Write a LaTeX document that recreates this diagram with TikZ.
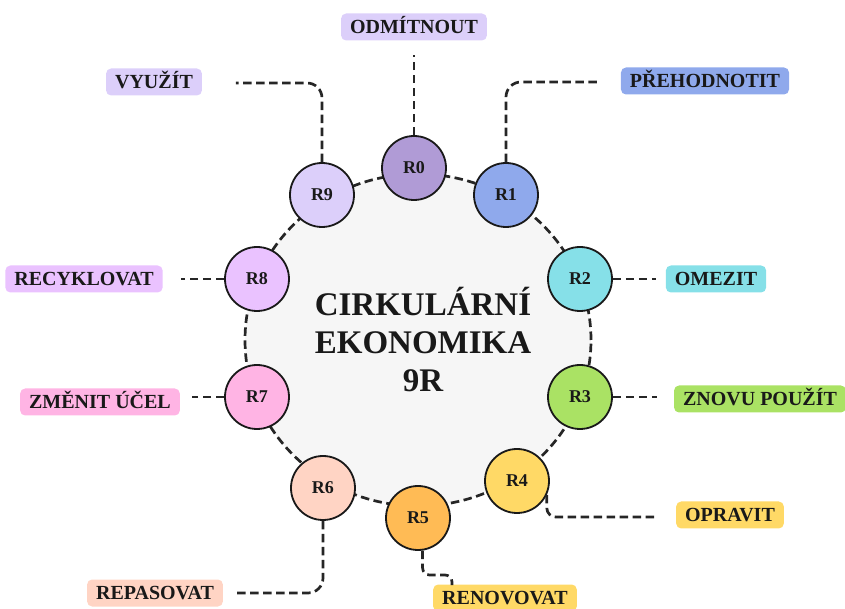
\documentclass[tikz,border=0pt]{standalone}
\usepackage{fontspec}
\setmainfont{Liberation Serif}
\usepackage{tikz}

\definecolor{ringgray}{HTML}{F6F6F6}
\definecolor{c0}{HTML}{B09BD6}
\definecolor{c0l}{HTML}{DCCFFA}
\definecolor{c1}{HTML}{8FA9EC}
\definecolor{c2}{HTML}{86E0E8}
\definecolor{c3}{HTML}{AAE264}
\definecolor{c4}{HTML}{FFD966}
\definecolor{c5}{HTML}{FFBB55}
\definecolor{c6}{HTML}{FFD4C4}
\definecolor{c7}{HTML}{FFB4E4}
\definecolor{c8}{HTML}{EAC2FF}
\definecolor{c9}{HTML}{DCCFFA}

\begin{document}
\begin{tikzpicture}[x=1pt, y=1pt,
	rnode/.style={circle, draw=black!90, line width=1.8pt, minimum size=64pt, inner sep=0pt, text=black!90, font=\fontsize{18}{20}\selectfont\bfseries},
	tag/.style={rounded corners=5pt, inner xsep=9pt, inner ysep=6.75pt, text height=13.5pt, text depth=0pt, text=black!90, font=\fontsize{20}{22}\selectfont\bfseries},
	link/.style={draw=black!85, line width=2.7pt, dash pattern=on 8.5pt off 4.5pt}]
	\useasboundingbox (-418,-269) rectangle (427,340);

	% Ring and title
	\draw [link, fill=ringgray] (0,0) ellipse [x radius=173, y radius=166];
	\node [align=center, text=black!90, font=\fontsize{33}{38}\selectfont\bfseries] (title) at (5,0) {CIRKULÁRNÍ\\EKONOMIKA\\9R};

	% Nodes {r0, r1, ..., r9}
	\node [rnode, fill=c0] 	(r0) at (-4,172) 		{R0};
	\node [rnode, fill=c1] 	(r1) at (88,145) 		{R1};
	\node [rnode, fill=c2] 	(r2) at (162,61) 		{R2};
	\node [rnode, fill=c3] 	(r3) at (162,-57) 		{R3};
	\node [rnode, fill=c4] 	(r4) at (99,-141) 		{R4};
	\node [rnode, fill=c5] 	(r5) at (0,-178) 		{R5};
	\node [rnode, fill=c6] 	(r6) at (-95,-148) 		{R6};
	\node [rnode, fill=c7] 	(r7) at (-161,-57) 		{R7};
	\node [rnode, fill=c8] 	(r8) at (-161,61) 		{R8};
	\node [rnode, fill=c9] 	(r9) at (-96,145) 		{R9};

	% Labels {l0, l1, ..., l9}
	\node [tag, fill=c0l] 	(l0) at (-4,313) 		{ODMÍTNOUT};
	\node [tag, fill=c1] 	(l1) at (287,259) 		{PŘEHODNOTIT};
	\node [tag, fill=c2] 	(l2) at (298,61) 		{OMEZIT};
	\node [tag, fill=c3] 	(l3) at (342,-59) 		{ZNOVU POUŽÍT};
	\node [tag, fill=c4] 	(l4) at (312,-175) 		{OPRAVIT};
	\node [tag, fill=c4] 	(l5) at (87,-258) 		{RENOVOVAT};
	\node [tag, fill=c6] 	(l6) at (-263,-253) 	{REPASOVAT};
	\node [tag, fill=c7] 	(l7) at (-318,-62) 		{ZMĚNIT ÚČEL};
	\node [tag, fill=c8] 	(l8) at (-334,61) 		{RECYKLOVAT};
	\node [tag, fill=c9] 	(l9) at (-264,258) 		{VYUŽÍT};

	% Loose ends of the leaders
	\coordinate (e0) at (-4,285);
	\coordinate (e1) at (183,258);
	\coordinate (e2) at (238,61);
	\coordinate (e3) at (239,-57);
	\coordinate (e4) at (239,-177);
	\coordinate (m5) at (20,-235);
	\coordinate (e5) at (34,-245);
	\coordinate (e6) at (-181,-253);
	\coordinate (e7) at (-226,-57);
	\coordinate (e8) at (-237,61);
	\coordinate (e9) at (-182,257);

	% Paths
	\draw [link] 						(r0.north) -- (e0);
	\draw [link, rounded corners=15pt] 	(r1.north) |- (e1);
	\draw [link] 						(r2.east) -- (e2);
	\draw [link] 						(r3.east) -- (e3);
	\draw [link, rounded corners=9pt] 	(r4.-25) |- (e4);
	\draw [link, rounded corners=7pt] 	(r5.-82) |- (m5) -| (e5);
	\draw [link, rounded corners=15pt] 	(r6.south) |- (e6);
	\draw [link] 						(r7.west) -- (e7);
	\draw [link] 						(r8.west) -- (e8);
	\draw [link, rounded corners=15pt] 	(r9.north) |- (e9);

\end{tikzpicture}
\end{document}
